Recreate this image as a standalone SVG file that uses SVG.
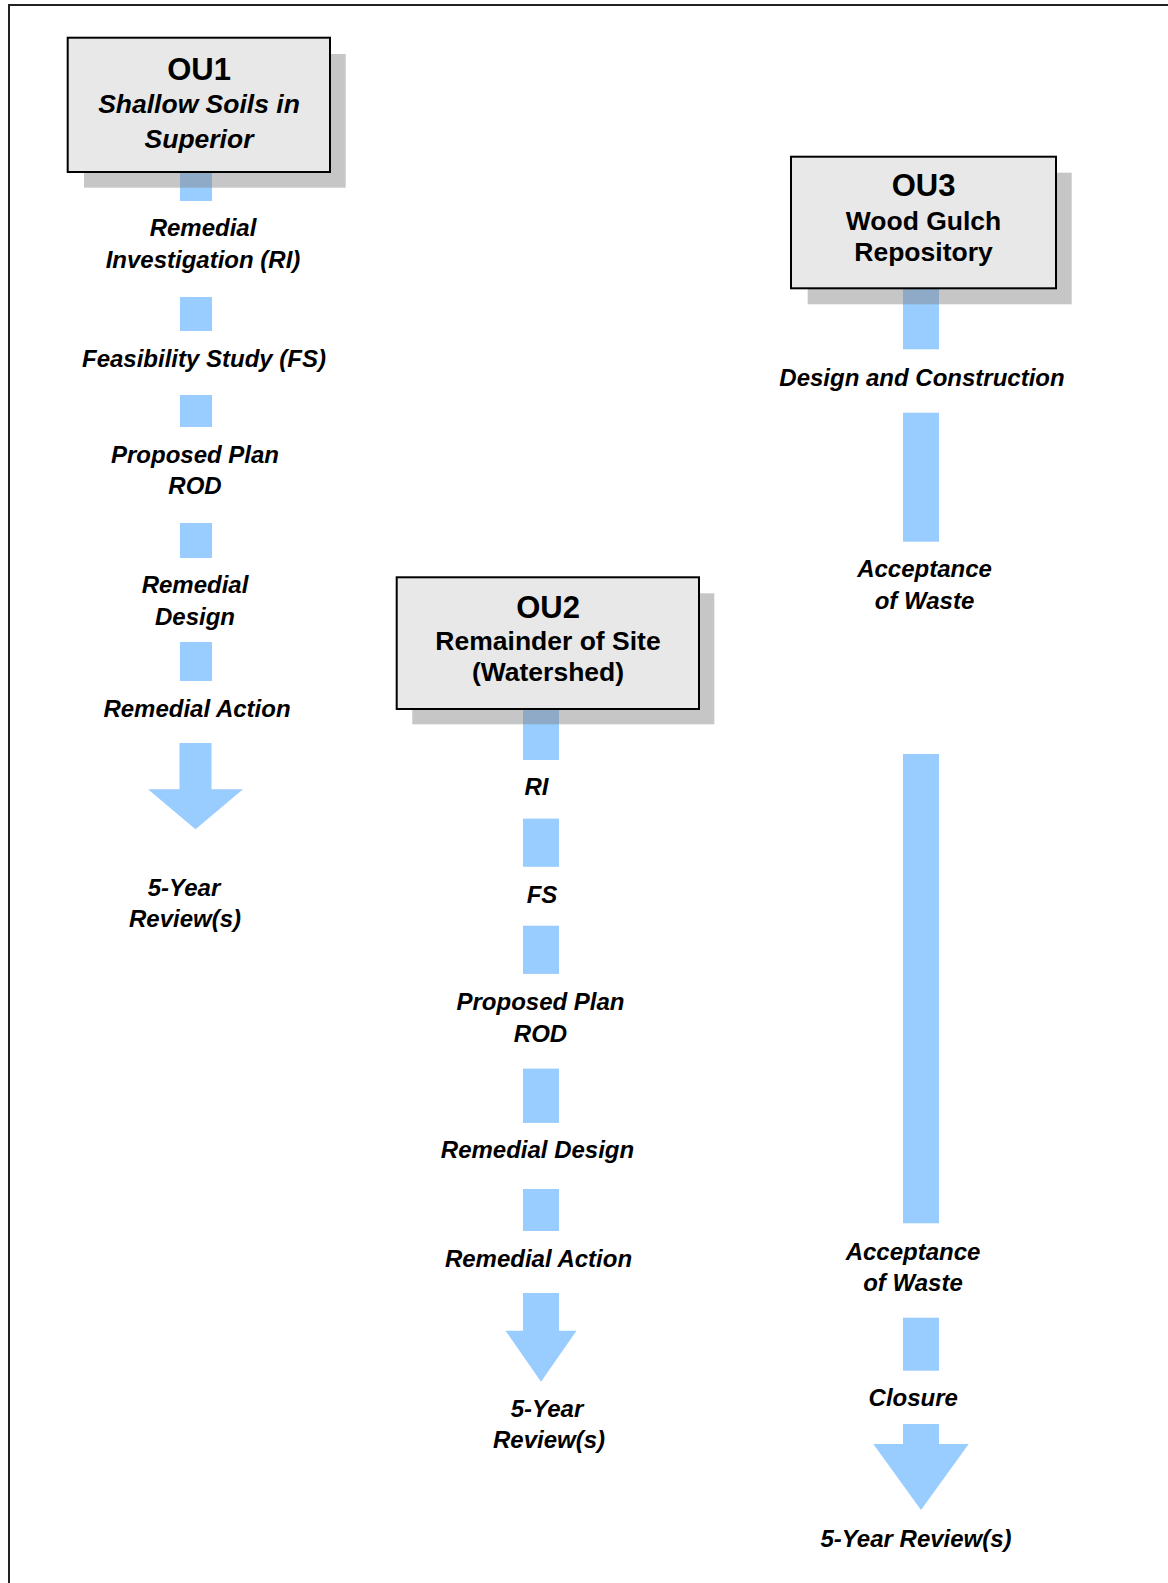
<svg xmlns="http://www.w3.org/2000/svg" width="1168" height="1583" viewBox="0 0 1168 1583">
<style>
.bar{fill:#99ccff}
.shadow{fill:#808080;opacity:0.45}
.box{fill:#e8e8e8;stroke:#000;stroke-width:2}
.t{font-family:"Liberation Sans",Arial,sans-serif;font-weight:bold;text-anchor:middle;fill:#000}
.title{font-size:31px}
.sub{font-size:26.5px}
.lbl{font-size:24px;font-style:italic}
.it{font-style:italic}
</style>
<rect x="0" y="0" width="1168" height="1583" fill="#fff"/>
<path d="M9,1583 V5 H1168" fill="none" stroke="#222" stroke-width="2"/>
<g id="connectors">
  <rect class="bar" x="180" y="165" width="32" height="36"/>
  <rect class="bar" x="180" y="297" width="32" height="34"/>
  <rect class="bar" x="180" y="395" width="32" height="32"/>
  <rect class="bar" x="180" y="523" width="32" height="35"/>
  <rect class="bar" x="180" y="642" width="32" height="39"/>
  <polygon class="bar" points="179.5,743 211.5,743 211.5,789.3 243,789.3 195.5,829.3 148,789.3 179.5,789.3"/>
  <rect class="bar" x="523" y="700" width="36" height="60"/>
  <rect class="bar" x="523" y="818.6" width="36" height="48.2"/>
  <rect class="bar" x="523" y="925.7" width="36" height="48.2"/>
  <rect class="bar" x="523" y="1068.6" width="36" height="54.3"/>
  <rect class="bar" x="523" y="1189" width="36" height="42"/>
  <polygon class="bar" points="523,1293 559,1293 559,1330.7 576.5,1330.7 541,1381.7 505.5,1330.7 523,1330.7"/>
  <rect class="bar" x="903" y="280" width="36" height="69.3"/>
  <rect class="bar" x="903" y="412.7" width="36" height="129"/>
  <rect class="bar" x="903" y="754" width="36" height="469.3"/>
  <rect class="bar" x="903" y="1317.7" width="36" height="53"/>
  <polygon class="bar" points="903,1424 939,1424 939,1444 968.7,1444 921,1510 873.3,1444 903,1444"/>
</g>
<g id="ou1">
  <rect class="shadow" x="84" y="54" width="261.7" height="133.7"/>
  <rect class="box" x="67.7" y="37.7" width="262.3" height="134.3"/>
  <text class="t title" x="199" y="80">OU1</text>
  <text class="t sub it" x="199" y="113">Shallow Soils in</text>
  <text class="t sub it" x="199" y="147.7">Superior</text>
</g>
<g id="ou2">
  <rect class="shadow" x="412.3" y="593.3" width="302" height="131"/>
  <rect class="box" x="396.7" y="577.3" width="302.3" height="131.7"/>
  <text class="t title" x="548" y="618.3">OU2</text>
  <text class="t sub" x="548" y="650">Remainder of Site</text>
  <text class="t sub" x="548" y="680.7">(Watershed)</text>
</g>
<g id="ou3">
  <rect class="shadow" x="807.7" y="172.7" width="264" height="131.6"/>
  <rect class="box" x="791" y="156.7" width="265" height="131.6"/>
  <text class="t title" x="923.5" y="196">OU3</text>
  <text class="t sub" x="923.5" y="230">Wood Gulch</text>
  <text class="t sub" x="923.5" y="260.7">Repository</text>
</g>
<g id="ou1-ri"><text class="t lbl" x="203" y="236">Remedial</text><text class="t lbl" x="203" y="267.7">Investigation (RI)</text></g>
<g id="ou1-fs"><text class="t lbl" x="204" y="367.3">Feasibility Study (FS)</text></g>
<g id="ou1-pp"><text class="t lbl" x="195" y="462.7">Proposed Plan</text><text class="t lbl" x="195" y="494">ROD</text></g>
<g id="ou1-rd"><text class="t lbl" x="195" y="592.7">Remedial</text><text class="t lbl" x="195" y="625">Design</text></g>
<g id="ou1-ra"><text class="t lbl" x="197" y="716.7">Remedial Action</text></g>
<g id="ou1-5yr"><text class="t lbl" x="184" y="896">5-Year</text><text class="t lbl" x="185" y="927">Review(s)</text></g>
<g id="ou2-ri"><text class="t lbl" x="536.5" y="795.4">RI</text></g>
<g id="ou2-fs"><text class="t lbl" x="542" y="903.2">FS</text></g>
<g id="ou2-pp"><text class="t lbl" x="540.5" y="1009.6">Proposed Plan</text><text class="t lbl" x="540.5" y="1041.8">ROD</text></g>
<g id="ou2-rd"><text class="t lbl" x="537.5" y="1157.9">Remedial Design</text></g>
<g id="ou2-ra"><text class="t lbl" x="538.5" y="1266.8">Remedial Action</text></g>
<g id="ou2-5yr"><text class="t lbl" x="547" y="1416.7">5-Year</text><text class="t lbl" x="549" y="1448.3">Review(s)</text></g>
<g id="ou3-dc"><text class="t lbl" x="922" y="386">Design and Construction</text></g>
<g id="ou3-aw1"><text class="t lbl" x="924.5" y="577.3">Acceptance</text><text class="t lbl" x="924.5" y="609.3">of Waste</text></g>
<g id="ou3-aw2"><text class="t lbl" x="913" y="1260">Acceptance</text><text class="t lbl" x="913" y="1291">of Waste</text></g>
<g id="ou3-cl"><text class="t lbl" x="913.3" y="1406">Closure</text></g>
<g id="ou3-5yr"><text class="t lbl" x="916" y="1546.7">5-Year Review(s)</text></g>
</svg>
